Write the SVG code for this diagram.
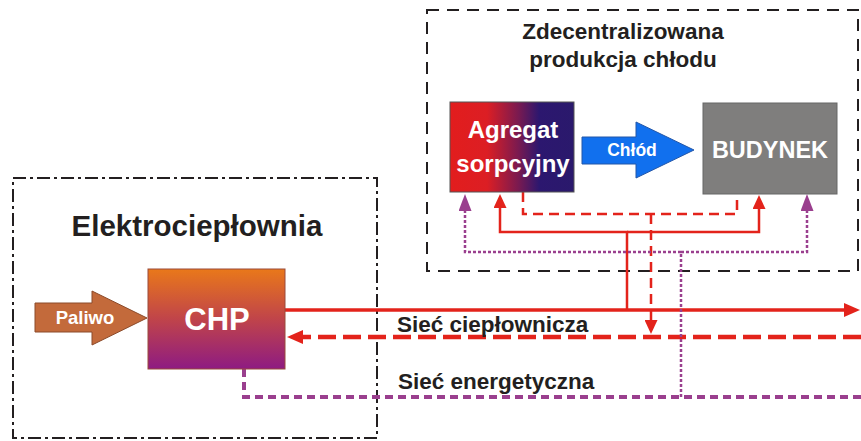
<svg xmlns="http://www.w3.org/2000/svg" width="861" height="441" viewBox="0 0 861 441">
<defs>
<style>
text{font-family:"Liberation Sans",Arial,sans-serif;font-weight:bold}
.dark{fill:#231f20}
.white{fill:#ffffff}
.red{fill:none;stroke:#e3231b}
.purple{fill:none;stroke:#9a3f8e}
.frame{fill:none;stroke:#231f20;stroke-width:2}
</style>
<linearGradient id="gAgg" x1="0" y1="0" x2="1" y2="0">
<stop offset="0" stop-color="#e21d1d"/>
<stop offset="0.3" stop-color="#dc1e24"/>
<stop offset="0.55" stop-color="#7a1a50"/>
<stop offset="0.72" stop-color="#2c176f"/>
<stop offset="1" stop-color="#2a196c"/>
</linearGradient>
<linearGradient id="gChp" x1="0" y1="0" x2="0" y2="1">
<stop offset="0" stop-color="#e9781a"/>
<stop offset="0.5" stop-color="#c0444a"/>
<stop offset="1" stop-color="#8e1b82"/>
</linearGradient>
<marker id="hRed" markerUnits="userSpaceOnUse" markerWidth="16" markerHeight="14" refX="1" refY="7" orient="auto" viewBox="0 0 16 14">
<path d="M0,0 L16,7 L0,14 z" fill="#e3231b"/>
</marker>
<marker id="hRedS" markerUnits="userSpaceOnUse" markerWidth="14" markerHeight="13" refX="1" refY="6.5" orient="auto" viewBox="0 0 14 13">
<path d="M0,0 L14,6.5 L0,13 z" fill="#e3231b"/>
</marker>
<marker id="hPur" markerUnits="userSpaceOnUse" markerWidth="17" markerHeight="13" refX="1" refY="6.5" orient="auto" viewBox="0 0 17 13">
<path d="M0,0 L17,6.5 L0,13 z" fill="#9a3f8e"/>
</marker>
</defs>

<g id="frame-decentral">
<rect class="frame" x="427" y="10" width="431" height="261" stroke-dasharray="12 8"/>
<text class="dark" x="623" y="39" font-size="22.5" text-anchor="middle">Zdecentralizowana</text>
<text class="dark" x="623" y="67" font-size="22.5" text-anchor="middle">produkcja chłodu</text>
</g>

<g id="frame-chp">
<rect class="frame" x="13" y="178" width="364" height="260" stroke-dasharray="13 4 3 4"/>
<text class="dark" x="197" y="236" font-size="29.5" text-anchor="middle">Elektrociepłownia</text>
</g>

<g id="connectors">
<path class="red" d="M285,310 H845" stroke-width="3.5" marker-end="url(#hRed)"/>
<path class="red" d="M861,337 H302" stroke-width="4.5" stroke-dasharray="18 7" marker-end="url(#hRed)"/>
<path class="purple" d="M244,369 V397 H861" stroke-width="4" stroke-dasharray="8 5"/>
<path class="red" d="M627,310 V232 H500 V207" stroke-width="2.5" marker-end="url(#hRedS)"/>
<path class="red" d="M627,232 H759 V208" stroke-width="2.5" marker-end="url(#hRedS)"/>
<path class="red" d="M523,192 V214 H737 V194" stroke-width="2.5" stroke-dasharray="10 6"/>
<path class="red" d="M651,214 V321" stroke-width="2.5" stroke-dasharray="10 6" marker-end="url(#hRedS)"/>
<path class="purple" d="M681,397 V252 H465 V210" stroke-width="2.5" stroke-dasharray="3 2" marker-end="url(#hPur)"/>
<path class="purple" d="M681,252 H807 V210" stroke-width="2.5" stroke-dasharray="3 2" marker-end="url(#hPur)"/>
</g>

<g id="label-siec-cieplownicza">
<text class="dark" x="397" y="332" font-size="22.5">Sieć ciepłownicza</text>
</g>
<g id="label-siec-energetyczna">
<text class="dark" x="398" y="389" font-size="22.5">Sieć energetyczna</text>
</g>

<g id="node-paliwo">
<path d="M35,303 H92 V291 L147,318 L92,345 V332 H35 z" fill="#c36a3b" stroke="#8b4a2a" stroke-width="1"/>
<text class="white" x="85" y="324" font-size="18.5" text-anchor="middle">Paliwo</text>
</g>

<g id="node-chp">
<rect x="148" y="269" width="137" height="100" fill="url(#gChp)" stroke="#9a4a3a" stroke-width="1"/>
<text class="white" x="217" y="330" font-size="31" text-anchor="middle">CHP</text>
</g>

<g id="node-agregat">
<rect x="450" y="102" width="124" height="90" fill="url(#gAgg)" stroke="#555" stroke-width="1"/>
<text class="white" x="513" y="138" font-size="24" text-anchor="middle">Agregat</text>
<text class="white" x="513" y="172" font-size="24" text-anchor="middle">sorpcyjny</text>
</g>

<g id="node-chlod">
<path d="M582,137 H636 V122 L694,150 L636,178 V164 H582 z" fill="#1170ee" stroke="#2356a8" stroke-width="1"/>
<text class="white" x="632" y="156" font-size="17.5" text-anchor="middle">Chłód</text>
</g>

<g id="node-budynek">
<rect x="703" y="103" width="134" height="91" fill="#7f7e7d" stroke="#666" stroke-width="1"/>
<text class="white" x="770" y="158" font-size="23.5" text-anchor="middle">BUDYNEK</text>
</g>
</svg>
